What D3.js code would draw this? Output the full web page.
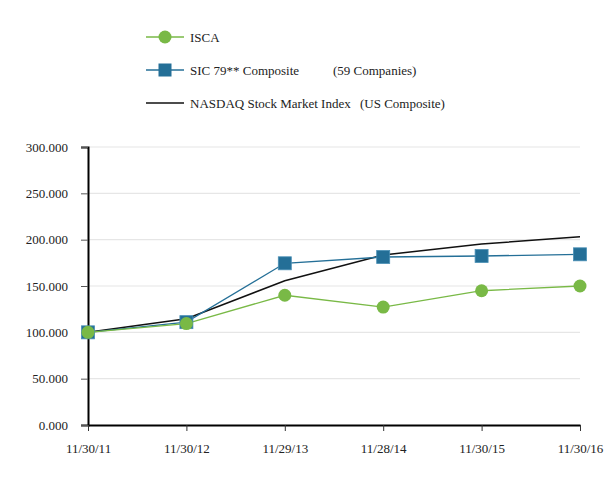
<!DOCTYPE html>
<html><head><meta charset="utf-8">
<script src="https://cdn.jsdelivr.net/npm/d3@7"></script>
<style>body{margin:0;background:#fff}svg{display:block}text{font-family:"Liberation Serif","Times New Roman",serif;fill:#222}</style>
</head><body><svg id="c" width="613" height="480"></svg>
<script>
const categories = ["11/30/11","11/30/12","11/29/13","11/28/14","11/30/15","11/30/16"];
const isca = [100, 109.5, 140, 127.3, 144.9, 150];
const sic = [100, 111, 174.5, 181.3, 182.4, 184.2];
const nasdaq = [100, 114.7, 155.7, 183.5, 195.3, 203.2];
const yTicks = [0, 50, 100, 150, 200, 250, 300];

const svg = d3.select("#c");
const x = d3.scalePoint().domain(categories).range([88, 580]);
const y = d3.scaleLinear().domain([0, 300]).range([425, 147]);
const green = "#79b946", blue = "#246f97";

// grid
svg.append("g").selectAll("line").data(yTicks.filter(d=>d>0)).join("line")
  .attr("x1", 88).attr("x2", 580).attr("y1", d=>y(d)).attr("y2", d=>y(d))
  .attr("stroke", "#e6e6e6").attr("stroke-width", 1.2);

// y axis
const ya = svg.append("g").attr("transform","translate(88,0)")
  .call(d3.axisLeft(y).tickValues(yTicks).tickFormat(d3.format(".3f")).tickSize(7).tickPadding(13));
ya.select(".domain").attr("stroke","#000").attr("stroke-width",2);
ya.selectAll(".tick line").attr("stroke","#555");
ya.selectAll("text").style("font-size","13px").attr("fill","#333");

// x axis
const xa = svg.append("g").attr("transform","translate(0,425)")
  .call(d3.axisBottom(x).tickSize(6).tickSizeOuter(0).tickPadding(13));
xa.select(".domain").attr("stroke","#000").attr("stroke-width",2);
xa.selectAll(".tick line").attr("stroke","#333");
xa.selectAll("text").style("font-size","13px").attr("fill","#333");

const line = d3.line().x((d,i)=>x(categories[i])).y(d=>y(d));
svg.append("path").datum(nasdaq).attr("d",line).attr("fill","none").attr("stroke","#111").attr("stroke-width",1.5);
svg.append("path").datum(sic).attr("d",line).attr("fill","none").attr("stroke",blue).attr("stroke-width",1.3);
svg.append("path").datum(isca).attr("d",line).attr("fill","none").attr("stroke",green).attr("stroke-width",1.3);

svg.append("g").selectAll("rect").data(sic).join("rect")
  .attr("x",(d,i)=>x(categories[i])-6.5).attr("y",d=>y(d)-6.5)
  .attr("width",13).attr("height",13).attr("fill",blue).attr("stroke","#4a8fb5").attr("stroke-width",0.8);
svg.append("g").selectAll("circle").data(isca).join("circle")
  .attr("cx",(d,i)=>x(categories[i])).attr("cy",d=>y(d)).attr("r",6.5).attr("fill",green);

// legend
const lg = svg.append("g");
const legendY = [37, 70, 103];
lg.append("line").attr("x1",146).attr("x2",184).attr("y1",legendY[0]).attr("y2",legendY[0]).attr("stroke",green).attr("stroke-width",1.5);
lg.append("circle").attr("cx",165).attr("cy",legendY[0]).attr("r",6.5).attr("fill",green);
lg.append("line").attr("x1",146).attr("x2",184).attr("y1",legendY[1]).attr("y2",legendY[1]).attr("stroke",blue).attr("stroke-width",1.5);
lg.append("rect").attr("x",158.5).attr("y",legendY[1]-6.5).attr("width",13).attr("height",13).attr("fill",blue);
lg.append("line").attr("x1",146).attr("x2",184).attr("y1",legendY[2]).attr("y2",legendY[2]).attr("stroke","#111").attr("stroke-width",1.5);
const lt = [["ISCA",190,0],["SIC 79** Composite",190,1],["(59 Companies)",333,1],["NASDAQ Stock Market Index",190,2],["(US Composite)",360,2]];
lg.selectAll("text").data(lt).join("text").attr("x",d=>d[1]).attr("y",d=>legendY[d[2]]+4.5)
  .style("font-size","13px").attr("fill","#222").text(d=>d[0]);
</script></body></html>
